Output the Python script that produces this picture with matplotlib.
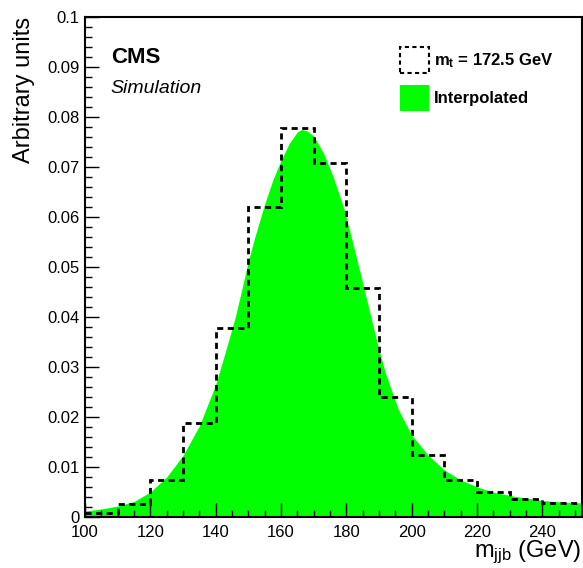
import matplotlib
matplotlib.use('Agg')
import matplotlib.pyplot as plt
import numpy as np
from matplotlib.patches import Patch
from matplotlib.ticker import MultipleLocator

plt.rcParams['font.family'] = ['Liberation Sans', 'DejaVu Sans']
plt.rcParams['mathtext.fontset'] = 'custom'
plt.rcParams['mathtext.rm'] = 'Liberation Sans'
plt.rcParams['mathtext.it'] = 'Liberation Sans:italic'
plt.rcParams['mathtext.bf'] = 'Liberation Sans:bold'

# histogram for m_t = 172.5 GeV (10 GeV bins)
bin_edges = [100, 110, 120, 130, 140, 150, 160, 170, 180, 190, 200, 210, 220, 230, 240, 250, 260]
hist_vals = [0.0009, 0.0027, 0.0075, 0.0188, 0.0378, 0.0621, 0.0779, 0.0709,
             0.0459, 0.0240, 0.0125, 0.0074, 0.0050, 0.0036, 0.0029, 0.0029]

# interpolated template
curve_x = [100, 105, 110, 115, 120, 125, 130, 135, 140, 143, 146, 148, 150, 152,
           155, 157.5, 160, 162.5, 165, 166.3, 168, 170, 173, 176, 179.5, 182,
           184.5, 187, 189.5, 192, 196, 200, 205, 210, 215, 220.5, 225.5, 231,
           240, 246, 252]
curve_y = [0.0012, 0.0016, 0.0022, 0.0031, 0.0050, 0.0080, 0.0123, 0.0182, 0.0265,
           0.0331, 0.0400, 0.0455, 0.0512, 0.0560, 0.0626, 0.0674, 0.0713, 0.0747,
           0.0770, 0.0775, 0.0772, 0.0762, 0.0728, 0.0680, 0.0612, 0.0547, 0.0481,
           0.0414, 0.0347, 0.0287, 0.0214, 0.0164, 0.0124, 0.0094, 0.0074, 0.0059,
           0.0049, 0.0042, 0.0033, 0.0030, 0.0028]

fig = plt.figure(figsize=(5.83, 5.68), dpi=100)
ax = fig.add_axes([85 / 583, 51 / 568, 496.5 / 583, 500 / 568])

green = '#00ff00'
ax.fill_between(curve_x, 0, curve_y, color=green, lw=0, zorder=1)
ax.stairs(hist_vals, bin_edges, baseline=None, color='black', lw=2,
          linestyle=(0, (2.2, 1.6)), zorder=2)

ax.set_xlim(100, 252)
ax.set_ylim(0, 0.1)
ax.xaxis.set_major_locator(MultipleLocator(20))
ax.xaxis.set_minor_locator(MultipleLocator(5))
ax.yaxis.set_minor_locator(MultipleLocator(0.002))
ax.set_yticks(np.arange(0, 0.101, 0.01))
ax.set_yticklabels(['0', '0.01', '0.02', '0.03', '0.04', '0.05', '0.06',
                    '0.07', '0.08', '0.09', '0.1'])
ax.tick_params(which='both', direction='in', labelsize=12, width=1, top=False, right=False)
ax.tick_params(which='major', length=10, pad=4)
ax.tick_params(which='minor', length=5)
ax.tick_params(axis='x', which='major', pad=5.5)
for s in ax.spines.values():
    s.set_linewidth(1.5)

ax.set_ylabel('Arbitrary units', fontsize=17, loc='top', labelpad=9)
ax.set_xlabel(r'$\mathrm{m_{jjb}}$ (GeV)', fontsize=17, loc='right', labelpad=-1)

ax.text(0.052, 0.908, 'CMS', transform=ax.transAxes, fontsize=16, fontweight='bold')
ax.text(0.052, 0.848, 'Simulation', transform=ax.transAxes, fontsize=14, style='italic')

handles = [Patch(facecolor='none', edgecolor='black', linestyle=(0, (2, 1.6)), lw=1.5),
           Patch(facecolor=green, edgecolor='none')]
labels = [r'$\mathbf{m_t}$ = 172.5 GeV', 'Interpolated']
ax.legend(handles, labels, loc='upper left', bbox_to_anchor=(0.634, 0.94),
          frameon=False, borderpad=0, borderaxespad=0,
          prop={'size': 12, 'weight': 'bold'}, handlelength=1.74, handleheight=1.98,
          labelspacing=0.75, handletextpad=0.3)

fig.savefig('out.png', dpi=100)
